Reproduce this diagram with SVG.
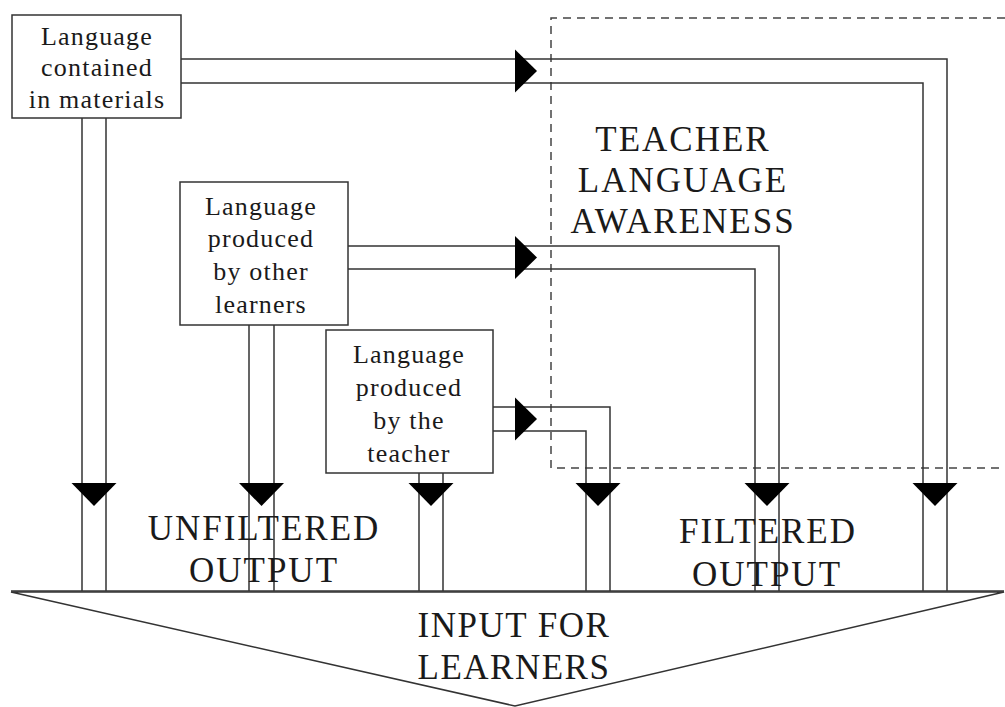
<svg xmlns="http://www.w3.org/2000/svg" width="1005" height="707" viewBox="0 0 1005 707">
<style>
.box{fill:#fff;stroke:#333;stroke-width:1.5}
.ln{fill:none;stroke:#333;stroke-width:1.5}
.dash{fill:none;stroke:#444;stroke-width:1.5;stroke-dasharray:8 6}
.st{font-family:"Liberation Serif","Times New Roman",serif;font-size:26px;letter-spacing:1.2px;fill:#1a1a1a;text-anchor:middle}
.bt{font-family:"Liberation Serif","Times New Roman",serif;font-size:35px;letter-spacing:2px;fill:#1a1a1a;text-anchor:middle}
.ah{fill:#000}
</style>
<defs>
<path id="ar" d="M0,-21.5 L22,0 L0,21.5 Z"/>
<path id="ad" d="M-22.5,0 L22.5,0 L0,23 Z"/>
</defs>
<rect width="1005" height="707" fill="#fff"/>

<g id="awareness-zone">
<path class="dash" d="M1005,18 H551 V468 H1005"/>
<text class="bt" x="683" y="151">TEACHER</text>
<text class="bt" x="683" y="192">LANGUAGE</text>
<text class="bt" x="683" y="233">AWARENESS</text>
</g>

<g id="input-for-learners">
<path class="ln" d="M11,591 H1004"/>
<polygon class="ln" points="11,592 1004,592 515,706"/>
<text class="bt" style="letter-spacing:1.5px" x="514" y="637">INPUT FOR</text>
<text class="bt" style="letter-spacing:1.5px" x="514" y="679">LEARNERS</text>
</g>

<g id="connectors">
<!-- unfiltered -->
<path class="ln" d="M82,118 V591 M106,118 V591"/>
<path class="ln" d="M249,325 V591 M274,325 V591"/>
<path class="ln" d="M419,473 V591 M443,473 V591"/>
<!-- filtered -->
<path class="ln" d="M181,59 H947 V591 M181,83 H923 V591"/>
<path class="ln" d="M348,246 H779 V591 M348,269 H755 V591"/>
<path class="ln" d="M493,407 H610 V591 M493,431 H586 V591"/>
<use class="ah" href="#ar" x="515" y="71"/>
<use class="ah" href="#ar" x="515" y="257.5"/>
<use class="ah" href="#ar" x="515" y="419"/>
<use class="ah" href="#ad" x="94" y="483"/>
<use class="ah" href="#ad" x="261.5" y="483"/>
<use class="ah" href="#ad" x="431" y="483"/>
<use class="ah" href="#ad" x="598" y="483"/>
<use class="ah" href="#ad" x="767" y="483"/>
<use class="ah" href="#ad" x="935" y="483"/>
</g>

<g id="unfiltered-label">
<text class="bt" x="264" y="540">UNFILTERED</text>
<text class="bt" x="264" y="582">OUTPUT</text>
</g>
<g id="filtered-label">
<text class="bt" x="768" y="543">FILTERED</text>
<text class="bt" x="767" y="586">OUTPUT</text>
</g>

<g id="materials">
<rect class="box" x="12" y="15" width="169" height="103"/>
<text class="st" x="97" y="45">Language</text>
<text class="st" x="97" y="76">contained</text>
<text class="st" x="97" y="108">in materials</text>
</g>

<g id="other-learners">
<rect class="box" x="180" y="182" width="168" height="143"/>
<text class="st" x="261" y="215">Language</text>
<text class="st" x="261" y="247">produced</text>
<text class="st" x="261" y="280">by other</text>
<text class="st" x="261" y="313">learners</text>
</g>

<g id="teacher">
<rect class="box" x="326" y="330" width="167" height="143"/>
<text class="st" x="409" y="363">Language</text>
<text class="st" x="409" y="396">produced</text>
<text class="st" x="409" y="429">by the</text>
<text class="st" x="409" y="462">teacher</text>
</g>
</svg>
